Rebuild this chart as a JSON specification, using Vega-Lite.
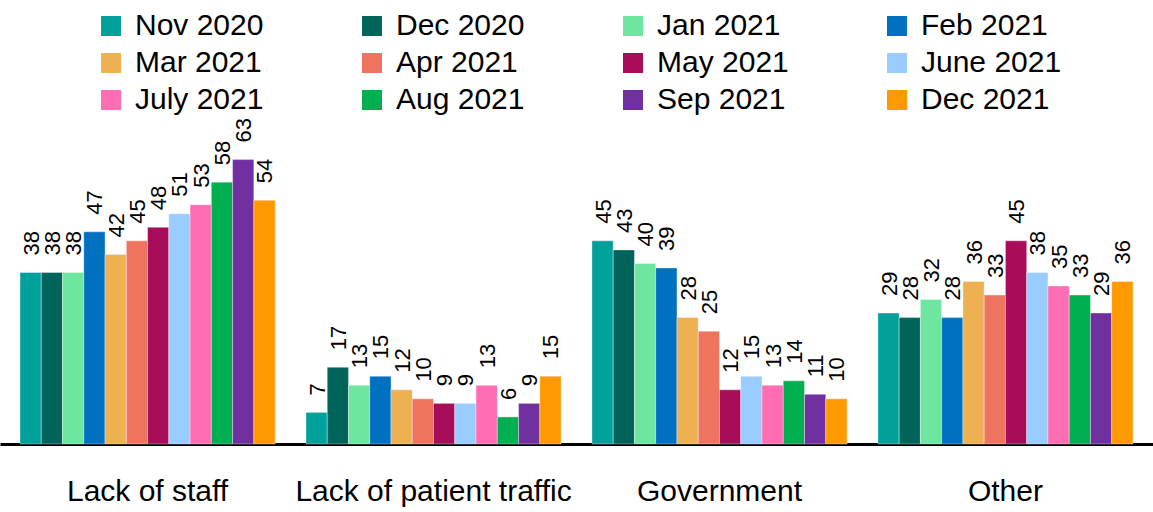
{
  "$schema": "https://vega.github.io/schema/vega-lite/v6.json",
  "autosize": {"type": "none"},
  "width": 1153,
  "height": 316,
  "padding": {"left": 0, "right": 0, "top": 128, "bottom": 68},
  "background": "white",
  "config": {"view": {"stroke": null}, "font": "Liberation Sans"},
  "data": {"values": [
    {"cat": "Lack of staff", "month": "Nov 2020", "v": 38},
    {"cat": "Lack of staff", "month": "Dec 2020", "v": 38},
    {"cat": "Lack of staff", "month": "Jan 2021", "v": 38},
    {"cat": "Lack of staff", "month": "Feb 2021", "v": 47},
    {"cat": "Lack of staff", "month": "Mar 2021", "v": 42},
    {"cat": "Lack of staff", "month": "Apr 2021", "v": 45},
    {"cat": "Lack of staff", "month": "May 2021", "v": 48},
    {"cat": "Lack of staff", "month": "June 2021", "v": 51},
    {"cat": "Lack of staff", "month": "July 2021", "v": 53},
    {"cat": "Lack of staff", "month": "Aug 2021", "v": 58},
    {"cat": "Lack of staff", "month": "Sep 2021", "v": 63},
    {"cat": "Lack of staff", "month": "Dec 2021", "v": 54},
    {"cat": "Lack of patient traffic", "month": "Nov 2020", "v": 7},
    {"cat": "Lack of patient traffic", "month": "Dec 2020", "v": 17},
    {"cat": "Lack of patient traffic", "month": "Jan 2021", "v": 13},
    {"cat": "Lack of patient traffic", "month": "Feb 2021", "v": 15},
    {"cat": "Lack of patient traffic", "month": "Mar 2021", "v": 12},
    {"cat": "Lack of patient traffic", "month": "Apr 2021", "v": 10},
    {"cat": "Lack of patient traffic", "month": "May 2021", "v": 9},
    {"cat": "Lack of patient traffic", "month": "June 2021", "v": 9},
    {"cat": "Lack of patient traffic", "month": "July 2021", "v": 13},
    {"cat": "Lack of patient traffic", "month": "Aug 2021", "v": 6},
    {"cat": "Lack of patient traffic", "month": "Sep 2021", "v": 9},
    {"cat": "Lack of patient traffic", "month": "Dec 2021", "v": 15},
    {"cat": "Government", "month": "Nov 2020", "v": 45},
    {"cat": "Government", "month": "Dec 2020", "v": 43},
    {"cat": "Government", "month": "Jan 2021", "v": 40},
    {"cat": "Government", "month": "Feb 2021", "v": 39},
    {"cat": "Government", "month": "Mar 2021", "v": 28},
    {"cat": "Government", "month": "Apr 2021", "v": 25},
    {"cat": "Government", "month": "May 2021", "v": 12},
    {"cat": "Government", "month": "June 2021", "v": 15},
    {"cat": "Government", "month": "July 2021", "v": 13},
    {"cat": "Government", "month": "Aug 2021", "v": 14},
    {"cat": "Government", "month": "Sep 2021", "v": 11},
    {"cat": "Government", "month": "Dec 2021", "v": 10},
    {"cat": "Other", "month": "Nov 2020", "v": 29},
    {"cat": "Other", "month": "Dec 2020", "v": 28},
    {"cat": "Other", "month": "Jan 2021", "v": 32},
    {"cat": "Other", "month": "Feb 2021", "v": 28},
    {"cat": "Other", "month": "Mar 2021", "v": 36},
    {"cat": "Other", "month": "Apr 2021", "v": 33},
    {"cat": "Other", "month": "May 2021", "v": 45},
    {"cat": "Other", "month": "June 2021", "v": 38},
    {"cat": "Other", "month": "July 2021", "v": 35},
    {"cat": "Other", "month": "Aug 2021", "v": 33},
    {"cat": "Other", "month": "Sep 2021", "v": 29},
    {"cat": "Other", "month": "Dec 2021", "v": 36}
  ]},
  "encoding": {
    "x": {
      "field": "cat", "type": "nominal", "sort": null, "title": null,
      "scale": {"paddingInner": 0.108, "paddingOuter": 0.07},
      "axis": {
        "labelAngle": 0, "labelFontSize": 30, "labelColor": "black", "labelPadding": 32,
        "labelLimit": 0, "ticks": false, "domainColor": "black", "domainWidth": 3, "labelFont": "Liberation Sans"
      }
    },
    "xOffset": {
      "field": "month", "type": "nominal",
      "sort": ["Nov 2020","Dec 2020","Jan 2021","Feb 2021","Mar 2021","Apr 2021","May 2021","June 2021","July 2021","Aug 2021","Sep 2021","Dec 2021"],
      "scale": {"paddingInner": 0, "paddingOuter": 0}
    },
    "y": {
      "field": "v", "type": "quantitative", "title": null,
      "scale": {"domain": [0, 70], "nice": false},
      "axis": null
    }
  },
  "layer": [
    {
      "mark": {"type": "bar", "stroke": "white", "strokeWidth": 0.6, "strokeOpacity": 0.6},
      "encoding": {
        "color": {
          "field": "month", "type": "nominal", "title": null,
          "scale": {
            "domain": ["Nov 2020","Dec 2020","Jan 2021","Feb 2021","Mar 2021","Apr 2021","May 2021","June 2021","July 2021","Aug 2021","Sep 2021","Dec 2021"],
            "range": ["#00A19A","#00645A","#6EE6A0","#0070C0","#EDB152","#EF7460","#A80D5A","#99CCFF","#FF6EB4","#00B050","#7030A0","#FF9900"]
          },
          "legend": {
            "orient": "none", "legendX": 96, "legendY": -117, "direction": "horizontal",
            "columns": 4, "columnPadding": 93, "rowPadding": 7,
            "symbolType": "square", "symbolSize": 400, "symbolStrokeWidth": 0, "symbolOpacity": 1,
            "labelFontSize": 30, "labelColor": "black", "labelOffset": 9, "labelLimit": 300,
            "labelFont": "Liberation Sans", "padding": 0
          }
        }
      }
    },
    {
      "mark": {"type": "text", "angle": 270, "align": "left", "baseline": "middle", "dx": 17, "dy": 1, "fontSize": 22, "color": "black", "font": "Liberation Sans"},
      "encoding": {"text": {"field": "v", "type": "quantitative"}}
    }
  ]
}
